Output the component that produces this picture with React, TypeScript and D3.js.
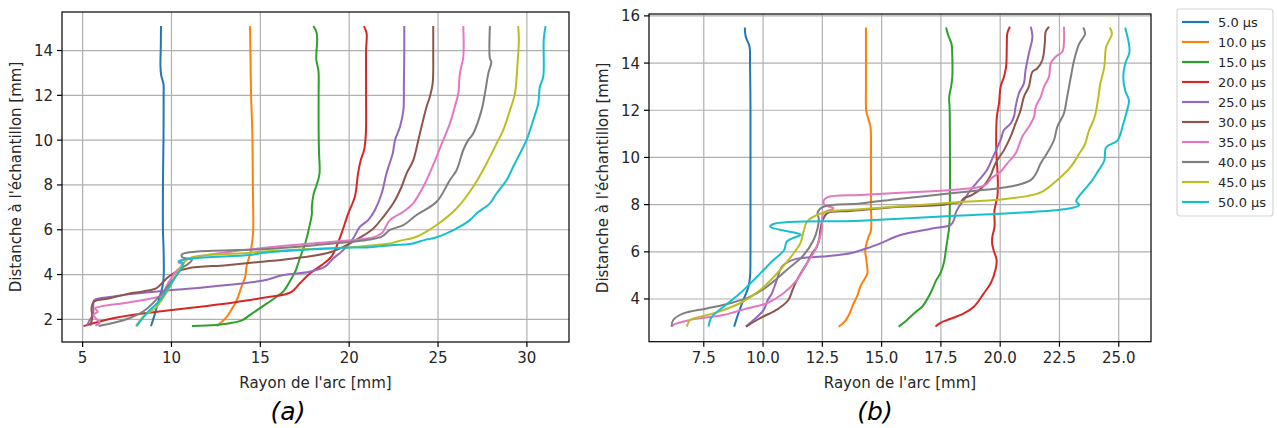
import React from "react";
import * as d3 from "d3";

type P = [number, number];

const times = [5, 10, 15, 20, 25, 30, 35, 40, 45, 50];
const legendLabels = times.map((t) => `${t.toFixed(1)} µs`);
const colors = ["#1f77b4", "#ff7f0e", "#2ca02c", "#d62728", "#9467bd", "#8c564b", "#e377c2", "#7f7f7f", "#bcbd22", "#17becf"];

// Panel (a): [rayon, distance]
const a05: P[] = [[8.85,1.7],[9.05,2.2],[9.3,2.9],[9.5,3.5],[9.56,3.9],[9.56,5],[9.52,6],[9.52,8],[9.55,10],[9.56,12.0],[9.55,12.5],[9.42,12.9],[9.38,13.3],[9.4,14.2],[9.41,15.1]];
const a10: P[] = [[12.54,1.7],[13.1,2.1],[13.47,2.56],[13.7,2.9],[13.94,3.46],[14.15,3.9],[14.22,4.35],[14.45,5.0],[14.55,5.5],[14.6,6],[14.58,8],[14.55,10.3],[14.48,12],[14.45,13.5],[14.42,15.09]];
const a15: P[] = [[11.15,1.7],[12.5,1.75],[13.2,1.82],[14.0,1.97],[14.42,2.2],[15.09,2.56],[15.9,3.0],[16.3,3.25],[16.7,3.75],[17.0,4.2],[17.23,4.75],[17.45,5.2],[17.6,5.6],[17.75,6.1],[17.9,6.7],[17.9,7.0],[18.0,7.6],[18.15,7.95],[18.33,8.5],[18.3,9.5],[18.28,10.5],[18.28,12.0],[18.27,13.1],[18.15,13.6],[18.2,14.5],[18.15,14.85],[17.98,15.09]];
const a20: P[] = [[5.05,1.7],[6.65,2.04],[8.5,2.27],[10.03,2.42],[12.0,2.6],[13.5,2.75],[14.42,2.86],[15.54,3.01],[16.3,3.1],[16.76,3.23],[17.23,3.61],[17.79,4.05],[18.45,4.42],[19.0,4.8],[19.2,5.09],[19.57,5.84],[19.95,6.73],[20.32,7.47],[20.5,8.52],[20.65,9.1],[20.85,9.6],[20.94,10.3],[20.95,12],[20.95,14],[20.98,14.77],[20.83,15.09]];
const a25: P[] = [[5.24,1.7],[5.35,1.9],[5.5,2.1],[5.6,2.3],[5.6,2.6],[5.65,2.86],[6.65,3.01],[8.0,3.15],[10.03,3.31],[12.16,3.46],[15.09,3.72],[16.29,3.98],[17.79,4.13],[18.64,4.35],[19.1,4.72],[19.67,5.09],[20.23,5.62],[20.6,6.13],[21.07,6.43],[21.45,6.88],[21.83,7.63],[22.1,8.52],[22.45,9.41],[22.58,10.0],[22.86,10.6],[23.05,11.34],[23.08,12.5],[23.1,14],[23.1,15.09]];
const a30: P[] = [[5.43,1.72],[5.55,2.1],[5.5,2.5],[5.65,2.8],[6.54,2.94],[7.59,3.15],[8.41,3.25],[9.16,3.4],[9.54,3.68],[9.84,3.9],[10.21,4.1],[10.96,4.28],[13.1,4.42],[15.09,4.57],[16.85,4.72],[18.73,4.95],[19.67,5.24],[20.6,5.65],[21.35,6.05],[21.92,6.58],[22.48,7.18],[22.95,7.92],[23.23,8.52],[23.61,9.11],[23.89,10.0],[24.07,10.6],[24.36,11.5],[24.54,11.94],[24.7,12.53],[24.73,14],[24.73,15.09]];
const a35: P[] = [[5.71,1.72],[5.95,1.85],[5.8,2.0],[5.6,2.2],[5.85,2.35],[5.7,2.49],[7.59,2.75],[9.0,2.95],[9.46,3.08],[9.8,3.6],[10.21,4.1],[10.6,4.45],[10.4,4.55],[10.96,4.72],[13.1,5.0],[16.85,5.32],[19.1,5.47],[21.35,5.66],[21.83,5.84],[22.29,6.43],[23.04,6.8],[23.6,7.18],[24.17,7.92],[24.92,9.26],[25.29,10.0],[25.67,10.75],[25.95,11.5],[26.14,12.09],[26.23,12.98],[26.42,13.7],[26.42,15.09]];
const a40: P[] = [[5.9,1.7],[7.59,2.04],[8.53,2.42],[9.46,3.16],[10.21,3.9],[10.6,4.3],[10.9,4.45],[11.15,4.65],[10.6,4.78],[10.59,4.9],[11.34,5.02],[15.09,5.13],[18.17,5.32],[20.98,5.54],[21.83,5.69],[22.29,5.99],[23.04,6.21],[23.79,6.66],[24.92,7.25],[25.67,8.22],[26.05,8.67],[26.42,9.56],[26.7,10.0],[26.98,10.3],[27.45,11.34],[27.64,12.09],[27.83,12.98],[28.0,13.5],[27.92,13.64],[27.92,15.09]];
const a45: P[] = [[8.0,1.7],[8.41,2.12],[9.16,2.56],[9.91,3.46],[10.48,4.28],[10.85,4.65],[11.22,4.79],[14.42,4.97],[15.0,5.02],[18.73,5.17],[20.04,5.21],[21.54,5.32],[22.29,5.39],[22.86,5.51],[23.79,5.69],[24.92,6.21],[26.05,6.96],[26.98,7.92],[27.73,8.96],[28.39,10.0],[28.67,10.45],[29.05,11.34],[29.33,12.09],[29.46,13.28],[29.55,14.5],[29.51,15.09]];
const a50: P[] = [[8.04,1.7],[8.6,2.27],[9.35,2.86],[10.1,3.75],[10.66,4.5],[10.4,4.6],[11.22,4.72],[14.42,4.87],[15.0,4.95],[19.67,5.2],[20.98,5.21],[22.48,5.32],[23.42,5.36],[24.36,5.57],[24.73,5.62],[25.48,5.84],[26.05,6.06],[26.79,6.43],[27.17,6.73],[27.92,7.18],[28.3,7.63],[28.86,8.22],[29.23,8.81],[29.42,9.11],[29.98,10.0],[30.36,10.9],[30.64,11.64],[30.73,12.38],[30.92,12.83],[30.95,14.5],[31.05,15.09]];

// Panel (b)
const b05: P[] = [[8.78,2.83],[8.96,3.39],[9.17,3.96],[9.38,4.5],[9.45,4.94],[9.47,6],[9.47,8],[9.47,10],[9.47,12],[9.45,14],[9.43,14.69],[9.27,15.12],[9.23,15.51]];
const b10: P[] = [[13.19,2.83],[13.4,3.0],[13.54,3.18],[13.68,3.46],[13.82,3.82],[13.96,4.1],[14.1,4.52],[14.18,4.67],[14.4,5.09],[14.39,5.37],[14.35,5.7],[14.31,6.08],[14.45,6.64],[14.55,6.92],[14.55,8],[14.55,10],[14.53,11.3],[14.42,11.7],[14.35,12.0],[14.34,13],[14.34,14],[14.34,15.51]];
const b15: P[] = [[15.72,2.83],[16.0,3.05],[16.22,3.25],[16.5,3.5],[16.71,3.67],[17.06,4.24],[17.31,4.81],[17.48,5.09],[17.62,5.51],[17.7,6.0],[17.77,6.5],[17.85,7.06],[17.88,8.35],[17.88,10.7],[17.87,12.0],[17.85,12.57],[17.93,13.0],[17.98,13.4],[17.98,14.3],[17.95,14.8],[17.8,15.2],[17.72,15.51]];
const b20: P[] = [[17.27,2.83],[17.5,3.0],[17.77,3.11],[18.47,3.39],[18.89,3.67],[19.31,4.24],[19.6,4.67],[19.8,5.23],[19.85,5.65],[19.72,6.08],[19.66,6.36],[19.67,6.64],[19.76,7.06],[19.76,7.77],[19.88,8.33],[19.9,9.04],[19.85,10.0],[19.83,10.74],[19.86,11.73],[19.95,12.29],[20.02,13.0],[20.16,13.42],[20.25,13.85],[20.28,14.8],[20.3,15.26],[20.41,15.54]];
const b25: P[] = [[9.27,2.83],[9.6,3.11],[10.02,3.53],[10.2,3.96],[10.37,4.24],[10.58,4.81],[10.75,5.3],[10.95,5.51],[11.4,5.7],[12.5,5.8],[13.68,5.94],[14.1,6.06],[14.39,6.15],[14.95,6.36],[15.79,6.71],[17.2,7.0],[17.91,7.14],[18.05,7.35],[18.12,7.63],[18.26,7.91],[18.47,8.19],[18.75,8.62],[19.03,8.95],[19.46,9.5],[19.73,10.1],[20.02,10.74],[20.16,11.16],[20.44,11.44],[20.58,11.73],[20.65,12.15],[20.79,12.72],[21.0,13.14],[21.07,13.7],[21.21,14.41],[21.36,15.11],[21.29,15.54]];
const b30: P[] = [[9.29,2.83],[9.74,3.11],[10.1,3.3],[10.44,3.46],[10.8,3.7],[11.07,3.96],[11.25,4.4],[11.43,4.81],[11.65,5.2],[11.85,5.51],[12.05,5.9],[12.27,6.22],[12.38,6.6],[12.41,6.9],[12.5,7.3],[12.7,7.63],[13.68,7.73],[15.79,7.91],[17.48,7.98],[17.91,8.05],[18.33,8.12],[18.47,8.27],[18.82,8.41],[19.31,8.8],[19.6,9.25],[19.8,9.75],[20.16,10.31],[20.44,10.88],[20.65,11.44],[20.86,12.0],[21.0,12.57],[21.21,13.0],[21.36,13.63],[21.57,13.78],[21.78,14.13],[21.88,14.83],[21.92,15.33],[22.06,15.54]];
const b35: P[] = [[6.14,2.83],[6.21,2.9],[6.92,3.11],[8.33,3.32],[9.32,3.6],[10.16,3.82],[10.86,4.24],[11.43,4.81],[11.85,5.51],[12.27,6.22],[12.49,7.06],[12.53,7.63],[12.97,7.85],[12.6,7.98],[12.55,8.15],[12.7,8.31],[14.1,8.41],[15.79,8.5],[17.91,8.62],[19.17,8.76],[19.46,8.9],[19.6,9.1],[20.02,9.4],[20.3,9.75],[20.65,10.17],[20.93,10.88],[21.21,11.3],[21.43,11.73],[21.5,12.15],[21.71,12.57],[21.85,13.0],[22.06,13.42],[22.13,13.99],[22.34,14.27],[22.62,14.48],[22.69,14.9],[22.69,15.54]];
const b40: P[] = [[6.14,2.83],[6.21,3.11],[6.64,3.39],[7.63,3.6],[8.61,3.82],[9.46,4.1],[10.16,4.52],[11.0,5.23],[11.71,5.86],[12.13,6.5],[12.3,7.0],[12.35,7.4],[12.3,7.66],[12.55,7.91],[14.1,8.05],[15.79,8.25],[17.91,8.48],[20.02,8.7],[20.72,8.83],[21.29,9.04],[21.5,9.3],[21.71,9.75],[21.99,10.2],[22.27,10.74],[22.41,11.3],[22.69,11.87],[22.8,12.43],[22.98,13.42],[23.12,14.13],[23.33,14.81],[23.58,15.24],[23.5,15.51]];
const b45: P[] = [[6.78,2.83],[6.85,3.0],[6.92,3.11],[7.91,3.39],[9.03,3.82],[9.88,4.38],[10.72,5.23],[11.29,5.94],[11.57,6.36],[11.71,6.85],[11.85,7.28],[12.13,7.49],[12.7,7.7],[14.1,7.8],[15.8,7.93],[17.91,8.08],[20.02,8.22],[21.14,8.36],[21.78,8.55],[22.41,9.04],[22.98,9.61],[23.33,10.15],[23.58,10.57],[23.74,11.13],[23.98,11.7],[24.14,12.55],[24.22,13.12],[24.39,13.83],[24.47,14.69],[24.71,15.24],[24.62,15.51]];
const b50: P[] = [[7.7,2.83],[7.75,3.05],[7.84,3.25],[8.33,3.67],[9.03,4.24],[9.74,4.94],[10.44,5.65],[10.89,6.08],[11.0,6.43],[11.43,6.65],[11.6,6.72],[11.4,6.8],[10.3,7.06],[10.44,7.18],[14.1,7.32],[17.91,7.52],[20.72,7.66],[22.69,7.8],[23.33,7.98],[23.2,8.15],[23.26,8.27],[23.48,8.55],[23.82,8.95],[24.14,9.44],[24.39,9.86],[24.47,10.43],[24.95,10.72],[25.19,11.42],[25.35,12.0],[25.43,12.41],[25.27,12.84],[25.19,13.4],[25.27,13.97],[25.45,14.45],[25.43,14.81],[25.27,15.51]];

const seriesA = [a05, a10, a15, a20, a25, a30, a35, a40, a45, a50];
const seriesB = [b05, b10, b15, b20, b25, b30, b35, b40, b45, b50];

const ticksAX = [5, 10, 15, 20, 25, 30];
const ticksAY = [2, 4, 6, 8, 10, 12, 14];
const ticksBX = [7.5, 10, 12.5, 15, 17.5, 20, 22.5, 25];
const ticksBY = [4, 6, 8, 10, 12, 14, 16];

const xLabel = "Rayon de l'arc [mm]";
const yLabel = "Distanche à l'échantillon [mm]";

const FONT = "'DejaVu Sans', sans-serif";
const TXT = "#262626";

type PanelProps = {
  series: P[][];
  xDomain: [number, number];
  yDomain: [number, number];
  l: number; r: number; t: number; b: number;
  xTicks: number[]; yTicks: number[];
  xFmt: (v: number) => string;
  yLabelX: number;
  caption: string; captionX: number;
};

function Panel(p: PanelProps) {
  const x = d3.scaleLinear().domain(p.xDomain).range([p.l, p.r]);
  const y = d3.scaleLinear().domain(p.yDomain).range([p.b, p.t]);
  const line = d3.line<P>().x((d) => x(d[0])).y((d) => y(d[1])).curve(d3.curveCatmullRom.alpha(0.5));
  const tick = 5;
  return (
    <g>
      {p.xTicks.map((v) => (
        <line key={"gx" + v} x1={x(v)} x2={x(v)} y1={p.t} y2={p.b} stroke="#b0b0b0" strokeWidth={1.2} />
      ))}
      {p.yTicks.map((v) => (
        <line key={"gy" + v} x1={p.l} x2={p.r} y1={y(v)} y2={y(v)} stroke="#b0b0b0" strokeWidth={1.2} />
      ))}
      {p.series.map((s, i) => (
        <path key={"s" + i} d={line(s) || ""} fill="none" stroke={colors[i]} strokeWidth={2} strokeLinejoin="round" strokeLinecap="butt" />
      ))}
      <rect x={p.l} y={p.t} width={p.r - p.l} height={p.b - p.t} fill="none" stroke="#000" strokeWidth={1.2} />
      {p.xTicks.map((v) => (
        <g key={"tx" + v}>
          <line x1={x(v)} x2={x(v)} y1={p.b} y2={p.b + tick} stroke="#000" strokeWidth={1.2} />
          <text x={x(v)} y={p.b + 21} textAnchor="middle" fontSize={15} fontFamily={FONT} fill={TXT}>{p.xFmt(v)}</text>
        </g>
      ))}
      {p.yTicks.map((v) => (
        <g key={"ty" + v}>
          <line x1={p.l - tick} x2={p.l} y1={y(v)} y2={y(v)} stroke="#000" strokeWidth={1.2} />
          <text x={p.l - 9} y={y(v) + 5.5} textAnchor="end" fontSize={15} fontFamily={FONT} fill={TXT}>{String(v)}</text>
        </g>
      ))}
      <text x={(p.l + p.r) / 2} y={388} textAnchor="middle" fontSize={15} fontFamily={FONT} fill={TXT}>{xLabel}</text>
      <text transform={`translate(${p.yLabelX},${(p.t + p.b) / 2}) rotate(-90)`} textAnchor="middle" fontSize={15} fontFamily={FONT} fill={TXT}>{yLabel}</text>
      <text x={p.captionX} y={420} textAnchor="middle" fontSize={25} fontStyle="italic" fontFamily={FONT} fill="#000">{p.caption}</text>
    </g>
  );
}

function Legend() {
  const x0 = 1177, y0 = 9;
  return (
    <g>
      <rect x={x0} y={y0} width={96} height={207} rx={3} fill="#fff" stroke="#d6d6d6" strokeWidth={1.2} />
      {legendLabels.map((lab, i) => {
        const yy = 22 + i * 20;
        return (
          <g key={lab}>
            <line x1={1182} x2={1209} y1={yy} y2={yy} stroke={colors[i]} strokeWidth={2.2} />
            <text x={1218} y={yy + 4.5} fontSize={13} fontFamily={FONT} fill={TXT}>{lab}</text>
          </g>
        );
      })}
    </g>
  );
}

export default function App() {
  return (
    <svg width={1277} height={428} style={{ position: "absolute", left: 0, top: 0, background: "#fff" }}>
      <rect x={0} y={0} width={1277} height={428} fill="#fff" />
      <Panel series={seriesA} xDomain={[3.84, 32.37]} yDomain={[0.99, 15.72]} l={62} r={569} t={12} b={342}
        xTicks={ticksAX} yTicks={ticksAY} xFmt={(v) => String(v)} yLabelX={21} caption="(a)" captionX={288} />
      <Panel series={seriesB} xDomain={[5.19, 26.36]} yDomain={[2.19, 16.08]} l={649} r={1151} t={14} b={341.7}
        xTicks={ticksBX} yTicks={ticksBY} xFmt={(v) => v.toFixed(1)} yLabelX={608} caption="(b)" captionX={875} />
      <Legend />
    </svg>
  );
}
